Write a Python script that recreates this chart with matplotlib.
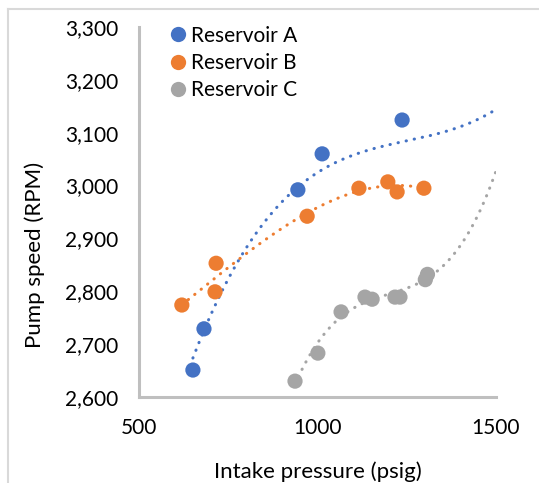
import numpy as np
import matplotlib
matplotlib.use("Agg")
import matplotlib.pyplot as plt
from matplotlib.lines import Line2D

plt.rcParams['font.family'] = ['Lato', 'DejaVu Sans']

series_names = ["Reservoir A", "Reservoir B", "Reservoir C"]
colors = ["#4472C4", "#ED7D31", "#A5A5A5"]

# measured points
a_x = [651, 682, 945, 1013, 1237]
a_y = [2651, 2729, 2992, 3060, 3124]
b_x = [620, 716, 713, 971, 1116, 1197, 1223, 1298]
b_y = [2774, 2853, 2799, 2942, 2995, 3007, 2988, 2995]
c_x = [937, 1001, 1066, 1133, 1153, 1217, 1231, 1302, 1308]
c_y = [2630, 2683, 2761, 2789, 2785, 2789, 2789, 2822, 2832]

# trendline values (dotted polynomial trendlines)
a_trend_x = [652, 697, 770, 873, 975, 1076, 1230, 1408, 1492]
a_trend_y = [2676, 2749, 2847, 2950, 3013, 3051, 3082, 3113, 3141]
b_trend_x = [638, 674, 727, 800, 857, 914, 993, 1057, 1145, 1259]
b_trend_y = [2784, 2804, 2833, 2871, 2899, 2925, 2956, 2976, 2995, 2999]
c_trend_x = [957, 1019, 1050, 1106, 1191, 1278, 1352, 1399, 1455, 1498]
c_trend_y = [2653, 2719, 2742, 2770, 2793, 2814, 2849, 2884, 2952, 3024]
trend_range = [(651, 1500), (620, 1298), (937, 1500)]

x_ticks = [500, 1000, 1500]
y_ticks = [2600, 2700, 2800, 2900, 3000, 3100, 3200, 3300]

W, H = 539, 483
fig = plt.figure(figsize=(W / 100, H / 100), dpi=100)
ax = fig.add_axes([139 / W, 1 - 397 / H, (496 - 139) / W, (397 - 27) / H])

data = [(a_x, a_y), (b_x, b_y), (c_x, c_y)]
trends = [(a_trend_x, a_trend_y), (b_trend_x, b_trend_y), (c_trend_x, c_trend_y)]
for (xs, ys), col, name in zip(data, colors, series_names):
    ax.scatter(xs, ys, s=120, color=col, zorder=3, label=name, edgecolors='none')
for (tx, ty), col, (x0, x1) in zip(trends, colors, trend_range):
    coef = np.polyfit(tx, ty, 3)
    xx = np.linspace(x0, x1, 300)
    ax.plot(xx, np.polyval(coef, xx), color=col, lw=2.2,
            linestyle=(0, (0.1, 2.6)), dash_capstyle='round', zorder=2)

ax.set_xlim(500, 1500)
ax.set_ylim(2600, 3300)
ax.set_xticks(x_ticks)
ax.set_yticks(y_ticks)
ax.set_xticklabels([str(v) for v in x_ticks], fontsize=15)
ax.set_yticklabels([f"{v:,}" for v in y_ticks], fontsize=15)
ax.tick_params(length=0)
ax.tick_params(axis='y', pad=15)
ax.tick_params(axis='x', pad=15)
for s in ['top', 'right']:
    ax.spines[s].set_visible(False)
for s in ['left', 'bottom']:
    ax.spines[s].set_color('#bfbfbf')
    ax.spines[s].set_linewidth(2.2)

ax.set_xlabel("Intake pressure (psig)", fontsize=16)
ax.xaxis.set_label_coords(0.5, (397 - 478) / 370)
ax.xaxis.label.set_verticalalignment('baseline')
ax.set_ylabel("Pump speed (RPM)", fontsize=16)
ax.yaxis.set_label_coords((45 - 139) / 357, (397 - 255) / 370)

handles = [Line2D([], [], marker='o', linestyle='none', markersize=11,
                  markerfacecolor=c, markeredgecolor='none') for c in colors]
ax.legend(handles, series_names, loc='upper left', bbox_to_anchor=(0.058, 1.026),
          frameon=False, fontsize=15, handletextpad=0.1, labelspacing=0.35,
          handlelength=1.0, borderaxespad=0)

# chart border (partially cropped)
fig.add_artist(Line2D([8 / W, 8 / W], [0, 1 - 9 / H], transform=fig.transFigure,
                      color='#d9d9d9', lw=1.5))
fig.add_artist(Line2D([8 / W, 1], [1 - 9 / H, 1 - 9 / H], transform=fig.transFigure,
                      color='#d9d9d9', lw=1.5))

fig.savefig("out.png", dpi=100)
